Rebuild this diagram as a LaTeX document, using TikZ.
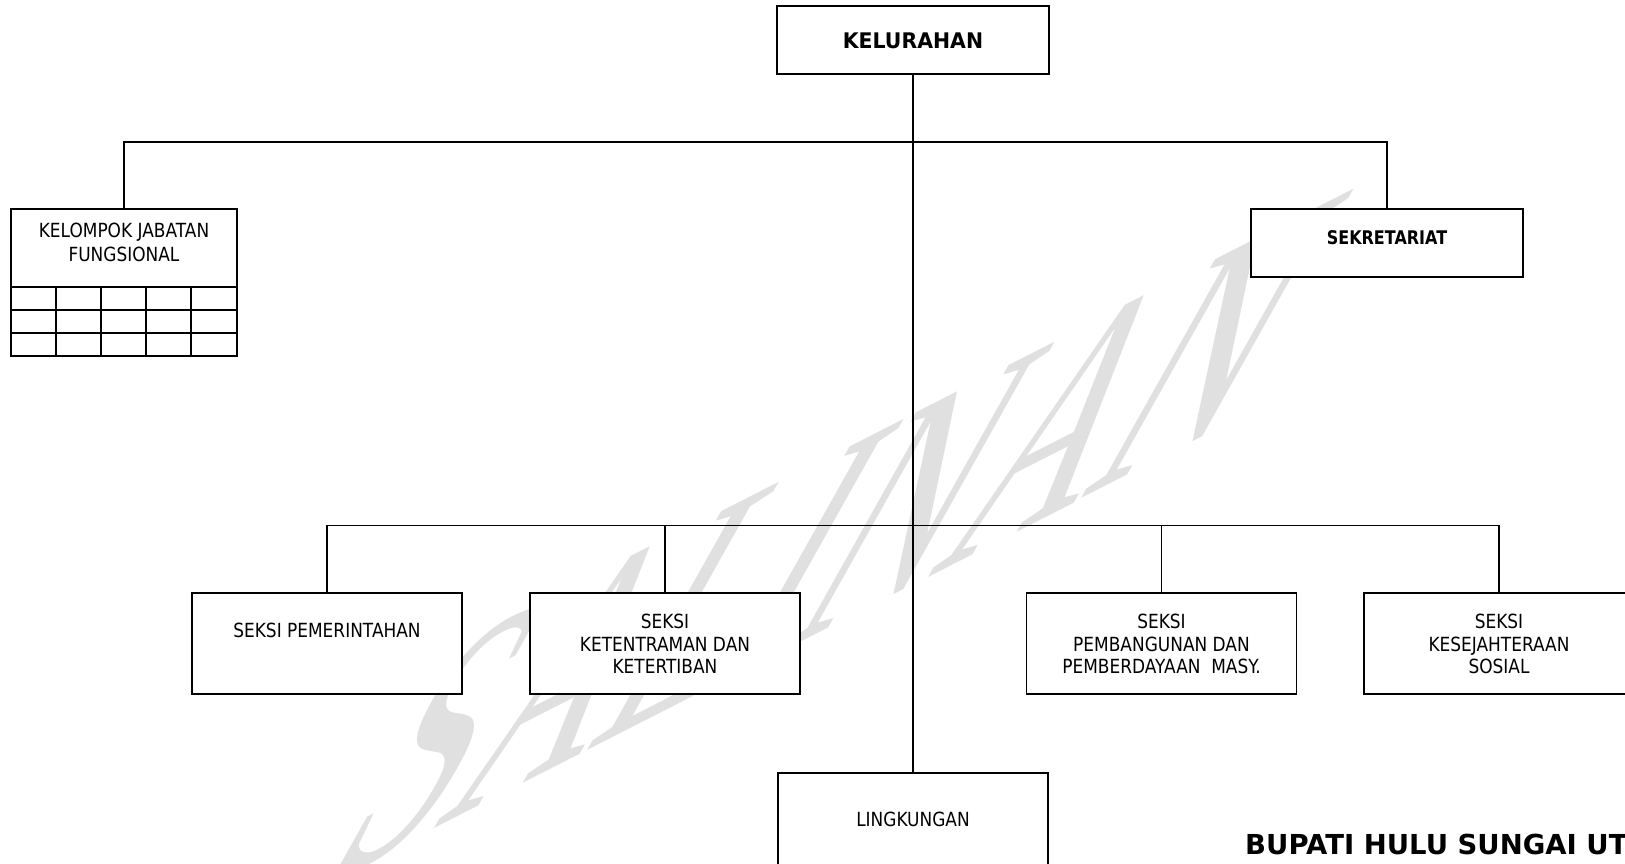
\documentclass[tikz,border=0pt]{standalone}
\usepackage{fontspec}
\newfontfamily\rfont{DejaVu Sans}[FakeStretch=0.87]
\newfontfamily\kfont{DejaVu Sans}[FakeStretch=0.95]
\newfontfamily\sbfont{DejaVu Sans}[FakeStretch=0.85]
\newfontfamily\bupfont{DejaVu Sans}
\newfontfamily\wmfont{Liberation Serif}
\begin{document}
\begin{tikzpicture}[x=1pt,y=-1pt,
  box/.style={draw, line width=1.8pt, fill=white, inner sep=0pt},
  headbox/.style={box, minimum width=272pt, minimum height=68pt},
  seksibox/.style={box, minimum width=270pt, minimum height=101pt},
  conn/.style={line width=1.5pt},
  gridline/.style={line width=1.5pt},
  txt/.style={font=\rfont\fontsize{19.5}{22.5}\selectfont, align=center, inner sep=0pt, anchor=north},
  wm/.style={font=\wmfont\fontsize{232}{232}\selectfont, text=gray!24, rotate=27, xslant=1.5, inner sep=0pt}]
\useasboundingbox (0,0) rectangle (1625,863);
\clip (0,0) rectangle (1625,863);
\fill[white] (0,0) rectangle (1625,863);
% watermark
\node[wm] (wmk) at (838,538) {SALINAN};
% boxes
\node[headbox] (kel) at (913,40) {};
\node[txt, font=\kfont\bfseries\fontsize{21.5}{24}\selectfont] (kelt) at (913,33) {KELURAHAN};
\node[box, minimum width=226pt, minimum height=147pt] (kjf) at (124,282.5) {};
\node[txt, font=\rfont\fontsize{19.5}{24}\selectfont] (kjft) at (124,222.5) {KELOMPOK JABATAN\\FUNGSIONAL};
\node[headbox] (sek) at (1387,243) {};
\node[txt, font=\sbfont\bfseries\fontsize{18.8}{22}\selectfont] (sekt) at (1387,230.6) {SEKRETARIAT};
\node[seksibox] (pem) at (327,643.5) {};
\node[txt] (pemt) at (327,622.4) {SEKSI PEMERINTAHAN};
\node[seksibox] (ket) at (665,643.5) {};
\node[txt] (kett) at (665,614) {SEKSI\\KETENTRAMAN DAN\\KETERTIBAN};
\node[seksibox] (pmb) at (1161.5,643.5) {};
\node[txt] (pmbt) at (1161.5,614) {SEKSI\\PEMBANGUNAN DAN\\PEMBERDAYAAN\ \ MASY.};
\node[seksibox] (kes) at (1499,643.5) {};
\node[txt] (kest) at (1499,614) {SEKSI\\KESEJAHTERAAN\\SOSIAL};
\node[seksibox] (lin) at (913,823.5) {};
\node[txt] (lint) at (913,812) {LINGKUNGAN};
% grid of kelompok jabatan fungsional
\draw[gridline] (kjf.west |- 0,287) -- (kjf.east |- 0,287);
\draw[gridline] (kjf.west |- 0,310) -- (kjf.east |- 0,310);
\draw[gridline] (kjf.west |- 0,333) -- (kjf.east |- 0,333);
\foreach \gx in {56,101,146,191} \draw[gridline] (\gx,287) -- (kjf.south -| \gx,0);
% connectors
\coordinate (topbar) at (913,142);
\coordinate (botbar) at (913,525.5);
\draw[conn] (kel.south) -- (lin.north);
\draw[conn] (kjf.north) -- (kjf.north |- topbar) -- (sek.north |- topbar) -- (sek.north);
\draw[conn] (pem.north) -- (pem.north |- botbar) -- (kes.north |- botbar) -- (kes.north);
\draw[conn] (ket.north) -- (ket.north |- botbar);
\draw[conn] (pmb.north) -- (pmb.north |- botbar);
% signature
\node[inner sep=0pt, anchor=base west, font=\bupfont\bfseries\fontsize{27.5}{30}\selectfont] (bup) at (1245,854) {BUPATI HULU SUNGAI UT};
\end{tikzpicture}
\end{document}
